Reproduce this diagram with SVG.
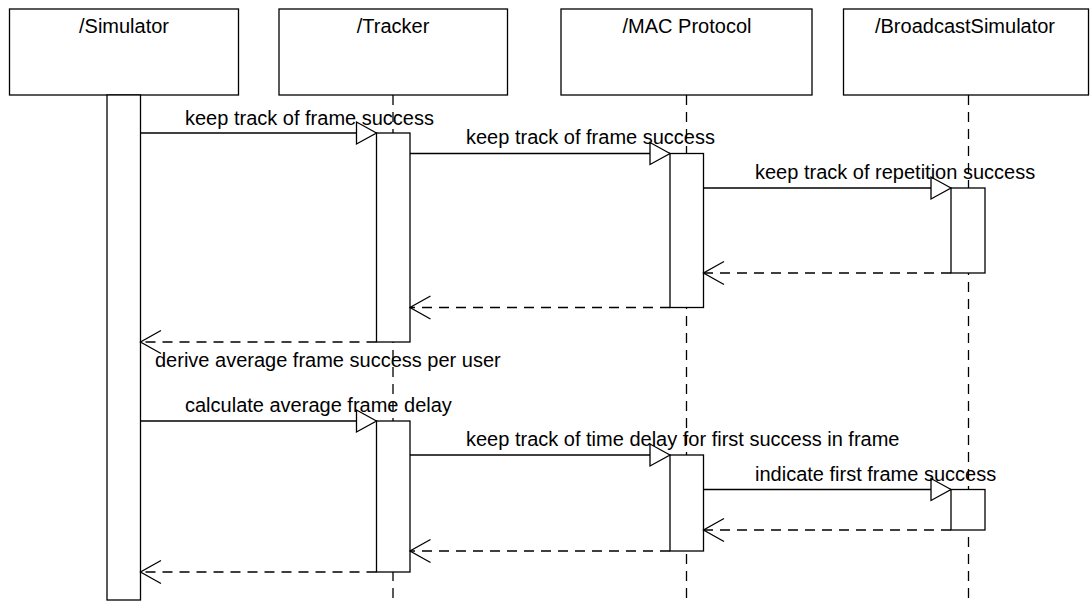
<svg xmlns="http://www.w3.org/2000/svg" width="1092" height="601" viewBox="0 0 1092 601">
<style>
.box{fill:#fff;stroke:#000;stroke-width:1.3}
.act{fill:#fff;stroke:#000;stroke-width:1.3}
.life{stroke:#000;stroke-width:1.3;stroke-dasharray:10 7;fill:none}
.msg{stroke:#000;stroke-width:1.3;fill:none}
.ret{stroke:#000;stroke-width:1.3;fill:none;stroke-dasharray:10 7}
.head{fill:#fff;stroke:#000;stroke-width:1.3}
.t{font-family:"Liberation Sans",Arial,sans-serif;font-size:20px;fill:#000}
.c{text-anchor:middle}
</style>
<rect width="1092" height="601" fill="#fff"/>
<g id="lifelines-dashed">
<line class="life" x1="393" y1="95" x2="393" y2="601"/>
<line class="life" x1="686.5" y1="95" x2="686.5" y2="601"/>
<line class="life" x1="968.5" y1="95" x2="968.5" y2="601"/>
</g>
<g id="node-simulator">
<rect class="box" x="9.5" y="9" width="229" height="86"/>
<text class="t c" x="124" y="33">/Simulator</text>
<rect class="act" x="107" y="95" width="33.5" height="505"/>
</g>
<g id="node-tracker">
<rect class="box" x="279" y="9" width="228.5" height="86"/>
<text class="t c" x="393" y="33">/Tracker</text>
<rect class="act" x="376.5" y="133" width="33.5" height="209"/>
<rect class="act" x="376.5" y="421" width="33.5" height="151"/>
</g>
<g id="node-mac">
<rect class="box" x="561" y="9" width="251" height="86"/>
<text class="t c" x="687" y="33">/MAC Protocol</text>
<rect class="act" x="670" y="153.5" width="33.5" height="154"/>
<rect class="act" x="670" y="455" width="33.5" height="96"/>
</g>
<g id="node-broadcast">
<rect class="box" x="843.5" y="9" width="245" height="86"/>
<text class="t c" x="965" y="33">/BroadcastSimulator</text>
<rect class="act" x="951" y="188" width="34" height="85"/>
<rect class="act" x="951" y="489.5" width="34" height="40.5"/>
</g>
<g id="connectors">
<line class="msg" x1="140.5" y1="133" x2="376.5" y2="133"/>
<polygon class="head" points="376.5,133 356.5,122 356.5,144"/>
<line class="msg" x1="410" y1="153.5" x2="670" y2="153.5"/>
<polygon class="head" points="670,153.5 650,142.5 650,164.5"/>
<line class="msg" x1="703.5" y1="188" x2="951" y2="188"/>
<polygon class="head" points="951,188 931,177 931,199"/>
<line class="ret" x1="951" y1="273" x2="703.5" y2="273"/>
<polyline class="msg" points="724,261.5 703.5,273 724,284.5"/>
<line class="ret" x1="670" y1="307.5" x2="410" y2="307.5"/>
<polyline class="msg" points="430.5,296 410,307.5 430.5,319"/>
<line class="ret" x1="376.5" y1="342" x2="140.5" y2="342"/>
<polyline class="msg" points="161,330.5 140.5,342 161,353.5"/>
<line class="msg" x1="140.5" y1="421" x2="376.5" y2="421"/>
<polygon class="head" points="376.5,421 356.5,410 356.5,432"/>
<line class="msg" x1="410" y1="455" x2="670" y2="455"/>
<polygon class="head" points="670,455 650,444 650,466"/>
<line class="msg" x1="703.5" y1="489.5" x2="951" y2="489.5"/>
<polygon class="head" points="951,489.5 931,478.5 931,500.5"/>
<line class="ret" x1="951" y1="530" x2="703.5" y2="530"/>
<polyline class="msg" points="724,518.5 703.5,530 724,541.5"/>
<line class="ret" x1="670" y1="551" x2="410" y2="551"/>
<polyline class="msg" points="430.5,539.5 410,551 430.5,562.5"/>
<line class="ret" x1="376.5" y1="572" x2="140.5" y2="572"/>
<polyline class="msg" points="161,560.5 140.5,572 161,583.5"/>
</g>
<g id="labels">
<text class="t" x="185" y="125">keep track of frame success</text>
<text class="t" x="466" y="144">keep track of frame success</text>
<text class="t" x="755" y="179">keep track of repetition success</text>
<text class="t" x="155" y="367">derive average frame success per user</text>
<text class="t" x="185" y="412">calculate average frame delay</text>
<text class="t" x="466" y="445.5">keep track of time delay for first success in frame</text>
<text class="t" x="755" y="480.5">indicate first frame success</text>
</g>
</svg>
